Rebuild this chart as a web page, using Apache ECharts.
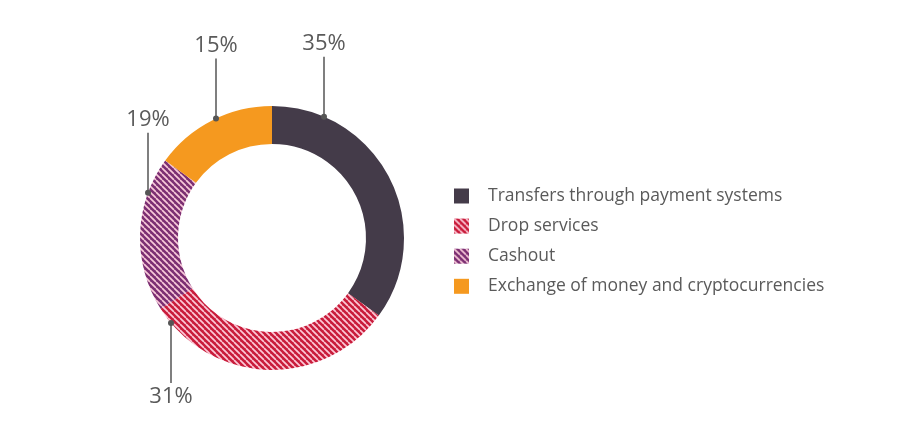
<!DOCTYPE html>
<html>
<head>
<meta charset="utf-8">
<script src="https://cdn.jsdelivr.net/npm/echarts@6/dist/echarts.min.js"></script>
<style>
html,body{margin:0;padding:0;background:#fff;}
#main{width:900px;height:446px;}
</style>
</head>
<body>
<div id="main"></div>
<script>
const categories = ['Transfers through payment systems', 'Drop services', 'Cashout', 'Exchange of money and cryptocurrencies'];
const values = [35, 31, 19, 15];
const percentLabels = ['35%', '31%', '19%', '15%'];

// styling
const baseColors = ['#443b49', '#c91c3b', '#7c2f73', '#f5991f'];
const striped = [false, true, true, false];
const CX = 272, CY = 238, R_IN = 94, R_OUT = 132;
const labelDx = [52, -101, -124, -56];   // horizontal offset of each leader line from centre
const lineLen = 60;
const labelColor = '#5a5a5a';

function stripePattern(color) {
  const s = 6;
  const c = document.createElement('canvas');
  c.width = s; c.height = s;
  const g = c.getContext('2d');
  g.fillStyle = color; g.fillRect(0, 0, s, s);
  g.strokeStyle = 'rgba(255,210,222,0.95)';
  g.lineWidth = 1.7;
  [-s, 0, s].forEach(k => {
    g.beginPath(); g.moveTo(k, 0); g.lineTo(k + s, s); g.stroke();
  });
  return c;
}

function geom(i) {
  const dx = labelDx[i];
  const up = (i === 0 || i === 2 || i === 3);
  const h = Math.sqrt(R_OUT * R_OUT - dx * dx);
  const dotY = up ? CY - h : CY + h;
  const endY = up ? dotY - lineLen : dotY + lineLen;
  return { x: CX + dx, dotY, endY, up };
}

const chart = echarts.init(document.getElementById('main'), null, { renderer: 'canvas' });

const data = categories.map((name, i) => ({
  name,
  value: values[i],
  itemStyle: {
    color: striped[i] ? { image: stripePattern(baseColors[i]), repeat: 'repeat' } : baseColors[i]
  }
}));

const dots = categories.map((_, i) => {
  const g = geom(i);
  return { type: 'circle', shape: { cx: g.x, cy: g.dotY, r: 3 }, style: { fill: '#555' }, z: 100 };
});

chart.setOption({
  animation: false,
  backgroundColor: '#fff',
  legend: {
    orient: 'vertical',
    left: 449,
    top: 182,
    itemWidth: 15,
    itemHeight: 15,
    itemGap: 12.1,
    icon: 'rect',
    data: categories,
    textStyle: { fontFamily: 'Open Sans', fontSize: 17.5, color: labelColor, padding: [0, 0, 0, 14] },
    selectedMode: false
  },
  graphic: dots,
  series: [{
    type: 'pie',
    center: [CX, CY],
    radius: [R_IN, R_OUT],
    startAngle: 90,
    clockwise: true,
    silent: true,
    data,
    label: {
      show: true,
      formatter: p => percentLabels[p.dataIndex],
      fontFamily: 'Open Sans',
      fontSize: 22,
      color: labelColor
    },
    labelLine: { show: true, lineStyle: { color: '#555', width: 1.5 } },
    labelLayout: params => {
      const g = geom(params.dataIndex);
      return {
        x: g.x,
        y: g.up ? g.endY - 2 : g.endY + 3,
        align: 'center',
        verticalAlign: g.up ? 'bottom' : 'top',
        labelLinePoints: [[g.x, g.dotY], [g.x, g.endY], [g.x, g.endY]]
      };
    }
  }]
});
</script>
</body>
</html>
